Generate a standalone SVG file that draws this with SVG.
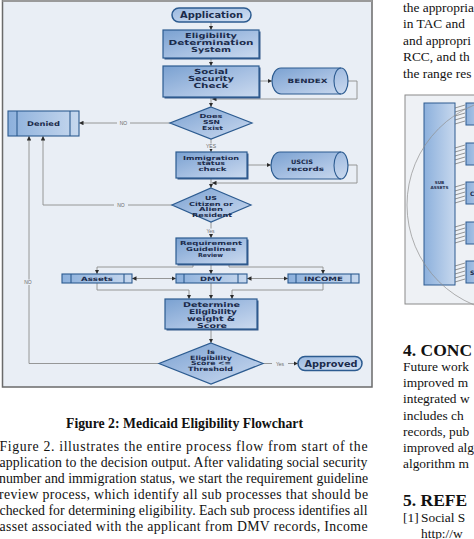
<svg xmlns="http://www.w3.org/2000/svg" width="474" height="539" viewBox="0 0 474 539">
<defs>
<linearGradient id="gBox" x1="0" y1="0" x2="1" y2="1">
<stop offset="0" stop-color="#7aa1d1"/><stop offset="0.55" stop-color="#a8c1e3"/><stop offset="1" stop-color="#cbdaef"/>
</linearGradient>
<linearGradient id="gTerm" x1="0" y1="0" x2="1" y2="1">
<stop offset="0" stop-color="#9bb9e0"/><stop offset="1" stop-color="#d3e0f2"/>
</linearGradient>
<linearGradient id="gSub" x1="0" y1="0" x2="1" y2="0">
<stop offset="0" stop-color="#8cb0dc"/><stop offset="1" stop-color="#c7d8ee"/>
</linearGradient>
<marker id="ah" viewBox="0 0 6 6" refX="6" refY="3" markerWidth="4.5" markerHeight="4.5" orient="auto-start-reverse" markerUnits="userSpaceOnUse"><path d="M0,0 L6,3 L0,6 Z" fill="#2a2a2a"/></marker>
<style>
.shape{fill:url(#gBox);stroke:#2c5b90;stroke-width:1.2}
.term{fill:url(#gTerm);stroke:#2c5b90;stroke-width:1.5}
.sub{fill:url(#gSub);stroke:#2c5b90;stroke-width:1.1}
.shadow{fill:#35598a}
.inner{stroke:#2c5b90;stroke-width:1.1;fill:none}
.lbl{font-family:"DejaVu Sans","Liberation Sans",sans-serif;font-weight:bold;fill:#1b2b4b;text-anchor:middle}
.ca{fill:none;stroke:#8c8c8c;stroke-width:0.9;marker-end:url(#ah)}
.edge{font-family:"Liberation Sans",sans-serif;font-size:5px;fill:#6a6a6a;text-anchor:middle}
.bg{fill:#e9eef5}
.body{font-family:"Liberation Serif","Times New Roman",serif;font-size:13.8px;fill:#111}
.rbody{font-family:"Liberation Serif","Times New Roman",serif;font-size:13.4px;fill:#111}
.head{font-family:"Liberation Serif","Times New Roman",serif;font-size:17.5px;font-weight:bold;fill:#111}
</style>
</defs>
<rect x="0" y="0" width="474" height="539" fill="#ffffff"/>
<!-- flowchart panel -->
<rect x="2.5" y="-1" width="369.5" height="388" fill="#e9eef5" stroke="#6a6a6a" stroke-width="1.5"/>
<line x1="2.5" y1="1" x2="372" y2="1" stroke="#9a9a9a" stroke-width="2"/>

<g id="connectors">
<line class="ca" x1="211" y1="22" x2="211" y2="30"/>
<line class="ca" x1="211" y1="58" x2="211" y2="66"/>
<line class="ca" x1="259" y1="81" x2="272" y2="81"/>
<polyline class="ca" points="348,81 357,81 357,99 212,99"/>
<line class="ca" x1="211" y1="97" x2="211" y2="107"/>
<line class="ca" x1="170" y1="123" x2="79" y2="123"/>
<line class="ca" x1="211" y1="139" x2="211" y2="152"/>
<line class="ca" x1="247" y1="165" x2="271" y2="165"/>
<polyline class="ca" points="348,165 357,165 357,183 212,183"/>
<line class="ca" x1="211" y1="178" x2="211" y2="188"/>
<polyline class="ca" points="172,205 43,205 43,136"/>
<line class="ca" x1="211" y1="222" x2="211" y2="238"/>
<polyline class="ca" points="193,264 193,267 97,267 97,274"/>
<line class="ca" x1="211" y1="264" x2="211" y2="274"/>
<polyline class="ca" points="229,264 229,267 323,267 323,274"/>
<line class="ca" x1="132" y1="278.5" x2="176" y2="278.5" marker-start="url(#ah)"/>
<line class="ca" x1="247" y1="278.5" x2="288" y2="278.5" marker-start="url(#ah)"/>
<polyline class="ca" points="97,283 97,290 189,290 189,299"/>
<line class="ca" x1="211" y1="283" x2="211" y2="299"/>
<polyline class="ca" points="323,283 323,290 232,290 232,299"/>
<line class="ca" x1="211" y1="330" x2="211" y2="343"/>
<polyline class="ca" points="159,363.5 29,363.5 29,136"/>
<line class="ca" x1="263" y1="363.5" x2="298" y2="363.5"/>
<rect class="bg" x="117" y="120.5" width="13" height="5"/>
<text class="edge" x="123.5" y="125">NO</text>
<rect class="bg" x="203" y="143.5" width="16" height="5.5"/>
<text class="edge" x="211" y="148">YES</text>
<rect class="bg" x="114" y="202.5" width="14" height="5"/>
<text class="edge" x="121" y="207">NO</text>
<rect class="bg" x="203" y="228.5" width="15" height="5.5"/>
<text class="edge" x="210.5" y="233">Yes</text>
<rect class="bg" x="22" y="279.5" width="12" height="5.5"/>
<text class="edge" x="28" y="284">NO</text>
<rect class="bg" x="272" y="361" width="16" height="5"/>
<text class="edge" x="280" y="365.5">Yes</text>
</g>

<g id="application">
<rect class="term" x="172" y="8" width="79" height="14" rx="7"/>
<text class="lbl" x="211.5" y="18" font-size="8.5" textLength="63" lengthAdjust="spacingAndGlyphs">Application</text>
</g>
<g id="eligibility-determination-system">
<rect class="shadow" x="164.5" y="31.5" width="96" height="28"/>
<rect class="shape" x="163" y="30" width="96" height="28"/>
<text class="lbl" font-size="7" x="211" y="38" textLength="52" lengthAdjust="spacingAndGlyphs">Eligibility</text>
<text class="lbl" font-size="7" x="211" y="45.2" textLength="85" lengthAdjust="spacingAndGlyphs">Determination</text>
<text class="lbl" font-size="7" x="211" y="52.3" textLength="40" lengthAdjust="spacingAndGlyphs">System</text>
</g>
<g id="social-security-check">
<rect class="shadow" x="164.5" y="67.5" width="96" height="31"/>
<rect class="shape" x="163" y="66" width="96" height="31"/>
<text class="lbl" font-size="7" x="211" y="74.3" textLength="34" lengthAdjust="spacingAndGlyphs">Social</text>
<text class="lbl" font-size="7" x="211" y="81.3" textLength="46" lengthAdjust="spacingAndGlyphs">Security</text>
<text class="lbl" font-size="7" x="211" y="88.3" textLength="35" lengthAdjust="spacingAndGlyphs">Check</text>
</g>
<g id="bendex">
<path class="shape" d="M281,68 H341 A7,13 0 0 1 341,94 H281 A9,13 0 0 1 281,68 Z"/>
<path class="inner" d="M341,68 A7,13 0 0 0 341,94"/>
<text class="lbl" font-size="6" x="307.5" y="83" textLength="40" lengthAdjust="spacingAndGlyphs">BENDEX</text>
</g>
<g id="ssn-exist">
<polygon class="shape" points="211,107 252,123 211,139 170,123"/>
<text class="lbl" font-size="5.5" x="211" y="118.3" textLength="23" lengthAdjust="spacingAndGlyphs">Does</text>
<text class="lbl" font-size="5.5" x="211.5" y="124" textLength="17" lengthAdjust="spacingAndGlyphs">SSN</text>
<text class="lbl" font-size="5.5" x="212.5" y="129.6" textLength="21" lengthAdjust="spacingAndGlyphs">Exist</text>
</g>
<g id="denied">
<rect class="sub" x="8" y="111" width="71" height="25"/>
<line class="inner" x1="17" y1="111" x2="17" y2="136"/>
<line class="inner" x1="70" y1="111" x2="70" y2="136"/>
<text class="lbl" font-size="6.5" x="43.5" y="126" textLength="33" lengthAdjust="spacingAndGlyphs">Denied</text>
</g>
<g id="immigration-status-check">
<rect class="shadow" x="177.5" y="153.5" width="71" height="26"/>
<rect class="shape" x="176" y="152" width="71" height="26"/>
<text class="lbl" font-size="5.5" x="211" y="159.6" textLength="56" lengthAdjust="spacingAndGlyphs">Immigration</text>
<text class="lbl" font-size="5.5" x="211" y="165.2" textLength="28" lengthAdjust="spacingAndGlyphs">status</text>
<text class="lbl" font-size="5.5" x="212.5" y="170.8" textLength="28" lengthAdjust="spacingAndGlyphs">check</text>
</g>
<g id="uscis-records">
<path class="shape" d="M280,152 H341 A7,13.5 0 0 1 341,179 H280 A9,13.5 0 0 1 280,152 Z"/>
<path class="inner" d="M341,152 A7,13.5 0 0 0 341,179"/>
<text class="lbl" font-size="6" x="302" y="164.4" textLength="22" lengthAdjust="spacingAndGlyphs">USCIS</text>
<text class="lbl" font-size="6" x="305.5" y="170.6" textLength="37" lengthAdjust="spacingAndGlyphs">records</text>
</g>
<g id="citizen-or-resident">
<polygon class="shape" points="211,188 251,205 211,222 172,205"/>
<text class="lbl" font-size="5.5" x="211" y="199.8" textLength="12" lengthAdjust="spacingAndGlyphs">US</text>
<text class="lbl" font-size="5.5" x="211" y="205.6" textLength="44" lengthAdjust="spacingAndGlyphs">Citizen or</text>
<text class="lbl" font-size="5.5" x="211" y="211.4" textLength="24" lengthAdjust="spacingAndGlyphs">Alien</text>
<text class="lbl" font-size="5.5" x="212" y="217.2" textLength="40" lengthAdjust="spacingAndGlyphs">Resident</text>
</g>
<g id="requirement-guidelines-review">
<rect class="shadow" x="177.5" y="239.5" width="71" height="26"/>
<rect class="shape" x="176" y="238" width="71" height="26"/>
<text class="lbl" font-size="5.5" x="211" y="245" textLength="62" lengthAdjust="spacingAndGlyphs">Requirement</text>
<text class="lbl" font-size="5.5" x="211" y="250.8" textLength="50" lengthAdjust="spacingAndGlyphs">Guidelines</text>
<text class="lbl" font-size="5.5" x="210.5" y="256.6" textLength="25" lengthAdjust="spacingAndGlyphs">Review</text>
</g>
<g id="assets">
<rect class="sub" x="62" y="274" width="70" height="9"/>
<line class="inner" x1="71" y1="274" x2="71" y2="283"/>
<line class="inner" x1="124" y1="274" x2="124" y2="283"/>
<text class="lbl" font-size="6" x="97" y="281" textLength="32" lengthAdjust="spacingAndGlyphs">Assets</text>
</g>
<g id="dmv">
<rect class="sub" x="176" y="274" width="71" height="9"/>
<line class="inner" x1="184" y1="274" x2="184" y2="283"/>
<line class="inner" x1="238" y1="274" x2="238" y2="283"/>
<text class="lbl" font-size="6" x="211" y="281" textLength="22" lengthAdjust="spacingAndGlyphs">DMV</text>
</g>
<g id="income">
<rect class="sub" x="288" y="274" width="71" height="9"/>
<line class="inner" x1="296" y1="274" x2="296" y2="283"/>
<line class="inner" x1="351" y1="274" x2="351" y2="283"/>
<text class="lbl" font-size="6" x="323.5" y="281" textLength="39" lengthAdjust="spacingAndGlyphs">INCOME</text>
</g>
<g id="determine-eligibility-score">
<rect class="shadow" x="166.5" y="300.5" width="92" height="30"/>
<rect class="shape" x="165" y="299" width="92" height="30"/>
<text class="lbl" font-size="6.7" x="211.5" y="306.8" textLength="57" lengthAdjust="spacingAndGlyphs">Determine</text>
<text class="lbl" font-size="6.7" x="213" y="314" textLength="48" lengthAdjust="spacingAndGlyphs">Eligibility</text>
<text class="lbl" font-size="6.7" x="211" y="321.2" textLength="48" lengthAdjust="spacingAndGlyphs">weight &amp;</text>
<text class="lbl" font-size="6.7" x="212" y="328.2" textLength="30" lengthAdjust="spacingAndGlyphs">Score</text>
</g>
<g id="score-threshold">
<polygon class="shape" points="211,343 263,363.5 211,384 159,363.5"/>
<text class="lbl" font-size="5.8" x="211" y="353.6" textLength="8" lengthAdjust="spacingAndGlyphs">Is</text>
<text class="lbl" font-size="5.8" x="211" y="359.5" textLength="42" lengthAdjust="spacingAndGlyphs">Eligibility</text>
<text class="lbl" font-size="5.8" x="211" y="365.4" textLength="40" lengthAdjust="spacingAndGlyphs">Score &lt;=</text>
<text class="lbl" font-size="5.8" x="210.5" y="371.3" textLength="45" lengthAdjust="spacingAndGlyphs">Threshold</text>
</g>
<g id="approved">
<rect class="term" x="298" y="356.5" width="64" height="14" rx="7"/>
<text class="lbl" font-size="8.5" x="331" y="366.8" textLength="53" lengthAdjust="spacingAndGlyphs">Approved</text>
</g>

<!-- caption and left body text -->
<text x="184.5" y="428" font-family="Liberation Serif,serif" font-size="14" font-weight="bold" fill="#111" text-anchor="middle" textLength="237" lengthAdjust="spacingAndGlyphs">Figure 2: Medicaid Eligibility Flowchart</text>
<text class="body" x="-0.5" y="451" textLength="368" lengthAdjust="spacing">Figure 2. illustrates the entire process flow from start of the</text>
<text class="body" x="-0.5" y="467" textLength="368" lengthAdjust="spacing">application to the decision output. After validating social security</text>
<text class="body" x="-1" y="483" textLength="369" lengthAdjust="spacing">number and immigration status, we start the requirement guideline</text>
<text class="body" x="-1" y="499" textLength="369" lengthAdjust="spacing">review process, which identify all sub processes that should be</text>
<text class="body" x="-0.5" y="515" textLength="368" lengthAdjust="spacing">checked for determining eligibility. Each sub process identifies all</text>
<text class="body" x="-0.5" y="531" textLength="368" lengthAdjust="spacing">asset associated with the applicant from DMV records, Income</text>

<!-- right column text -->
<text class="rbody" x="403" y="12">the appropria</text>
<text class="rbody" x="403" y="28">in TAC and</text>
<text class="rbody" x="403" y="44.5">and appropri</text>
<text class="rbody" x="403" y="61">RCC, and th</text>
<text class="rbody" x="403" y="77.5">the range res</text>

<!-- right figure -->
<rect x="405" y="95" width="75" height="209" fill="#eef1f5" stroke="#8a8a8a" stroke-width="1"/>
<rect x="424" y="103" width="31" height="182" fill="url(#gSub)" stroke="#2c5b90" stroke-width="1"/>
<text x="439.5" y="184" font-family="DejaVu Sans,sans-serif" font-size="4.2" font-weight="bold" fill="#1b2b4b" text-anchor="middle">SUB</text>
<text x="439.5" y="189" font-family="DejaVu Sans,sans-serif" font-size="4.2" font-weight="bold" fill="#1b2b4b" text-anchor="middle">ASSETS</text>
<g fill="url(#gSub)" stroke="#2c5b90" stroke-width="1">
<rect x="466" y="103" width="20" height="22"/>
<rect x="466" y="143" width="20" height="22"/>
<rect x="466" y="182" width="20" height="22"/>
<rect x="466" y="222" width="20" height="22"/>
<rect x="466" y="261" width="20" height="22"/>
</g>
<text x="470" y="196" font-family="DejaVu Sans,sans-serif" font-size="6" font-weight="bold" fill="#1b2b4b">C</text>
<text x="470" y="275" font-family="DejaVu Sans,sans-serif" font-size="6" font-weight="bold" fill="#1b2b4b">S</text>
<g stroke="#555" stroke-width="0.6" fill="none">
<path d="M455,108 L465,105 M455,112 L465,109 M455,116 L465,113 M455,120 L465,117 M455,124 L465,121"/>
<path d="M455,148 L465,145 M455,152 L465,149 M455,156 L465,153 M455,160 L465,157 M455,164 L465,161"/>
<path d="M455,187 L465,184 M455,191 L465,188 M455,195 L465,192 M455,199 L465,196 M455,203 L465,200"/>
<path d="M455,227 L465,224 M455,231 L465,228 M455,235 L465,232 M455,239 L465,236 M455,243 L465,240"/>
<path d="M455,266 L465,263 M455,270 L465,267 M455,274 L465,271 M455,278 L465,275 M455,282 L465,279"/>
</g>
<circle cx="515" cy="205" r="108" fill="none" stroke="#8f8f8f" stroke-width="0.7"/>

<text class="head" x="403" y="356">4. CONC</text>
<text class="rbody" x="403" y="370.5">Future work</text>
<text class="rbody" x="403" y="387">improved m</text>
<text class="rbody" x="403" y="403">integrated w</text>
<text class="rbody" x="403" y="419.5">includes ch</text>
<text class="rbody" x="403" y="436">records, pub</text>
<text class="rbody" x="403" y="452">improved alg</text>
<text class="rbody" x="403" y="468">algorithm m</text>
<text class="head" x="403" y="506">5. REFE</text>
<text class="rbody" x="403" y="522">[1]</text>
<text class="rbody" x="421" y="522">Social S</text>
<text class="rbody" x="421" y="538" fill="#2a55b0">http://w</text>
</svg>
